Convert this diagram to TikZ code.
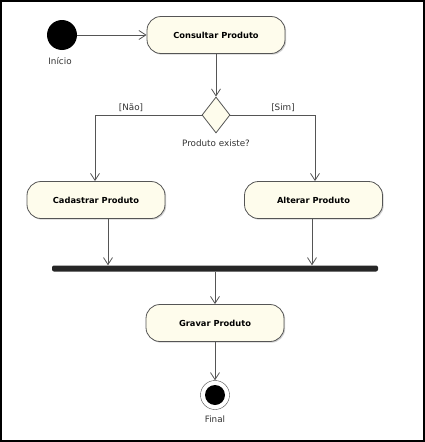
\documentclass[tikz,border=0pt]{standalone}
\usepackage{fontspec}
\setmainfont{DejaVu Sans}
\usetikzlibrary{arrows.meta,shapes.geometric,shadows}
\definecolor{cream}{HTML}{FEFCEC}
\definecolor{edge}{HTML}{555555}

\begin{document}
\begin{tikzpicture}[x=1pt,y=-1pt,
  act/.style={draw=edge, thick, fill=cream, rounded corners=14pt,
    minimum width=138pt, minimum height=37pt,
    font=\fontsize{8.3}{10}\selectfont\bfseries,
    drop shadow={shadow xshift=1.2pt, shadow yshift=-1.2pt, fill=black!35}},
  lbl/.style={font=\fontsize{8.8}{10}\selectfont, text=black!80},
  arr/.style={draw=edge, thick, -{Straight Barb[length=7pt,width=9pt]}}]
\useasboundingbox (0,0) rectangle (425,442);
% Frame
\draw [line width=1.6pt] (0.8,0.8) rectangle (424.2,441.2);

% Start
\fill [black] (62,35) circle (15pt);
\coordinate (ini) at (77,35);
\node [lbl] (ini-lbl) at (60,61) {Início};

% Activities
\node [act] (cons) at (216,35) {Consultar Produto};
\node [act] (cad) at (96,200) {Cadastrar Produto};
\node [act] (alt) at (313.5,200) {Alterar Produto};
\node [act] (grav) at (215,323) {Gravar Produto};

% Decision
\node [diamond, draw=edge, thick, fill=cream, minimum width=28pt, minimum height=36pt,
  inner sep=0pt] (diam) at (216,115) {};
\node [lbl] (diam-lbl) at (216,143) {Produto existe?};
\node [lbl] (nao) at (131,108) {[Não]};
\node [lbl] (sim) at (283,108) {[Sim]};

% Join bar
\node [fill=black!85, rounded corners=2pt, minimum width=326pt, minimum height=6pt,
  inner sep=0pt] (bar) at (215,268.5) {};

% Final
\node [circle, draw=black!70, fill=white, minimum size=29pt, inner sep=0pt] (fim) at (215,395) {};
\fill [black] (fim) circle (10pt);
\node [lbl] (fim-lbl) at (215,419) {Final};

% Flows
\draw [arr] (ini) -- (cons.west);
\draw [arr] (cons.south) -- (diam.north);
\draw [arr] (diam.west) -| ([xshift=-1pt]cad.north);
\draw [arr] (diam.east) -| ([xshift=1.5pt]alt.north);
\draw [arr] ([xshift=12pt]cad.south) -- ([xshift=12pt]cad.south |- bar.north);
\draw [arr] ([xshift=-1.5pt]alt.south) -- ([xshift=-1.5pt]alt.south |- bar.north);
\draw [arr] (bar.south) -- (grav.north);
\draw [arr] (grav.south) -- (fim.north);

\end{tikzpicture}
\end{document}
